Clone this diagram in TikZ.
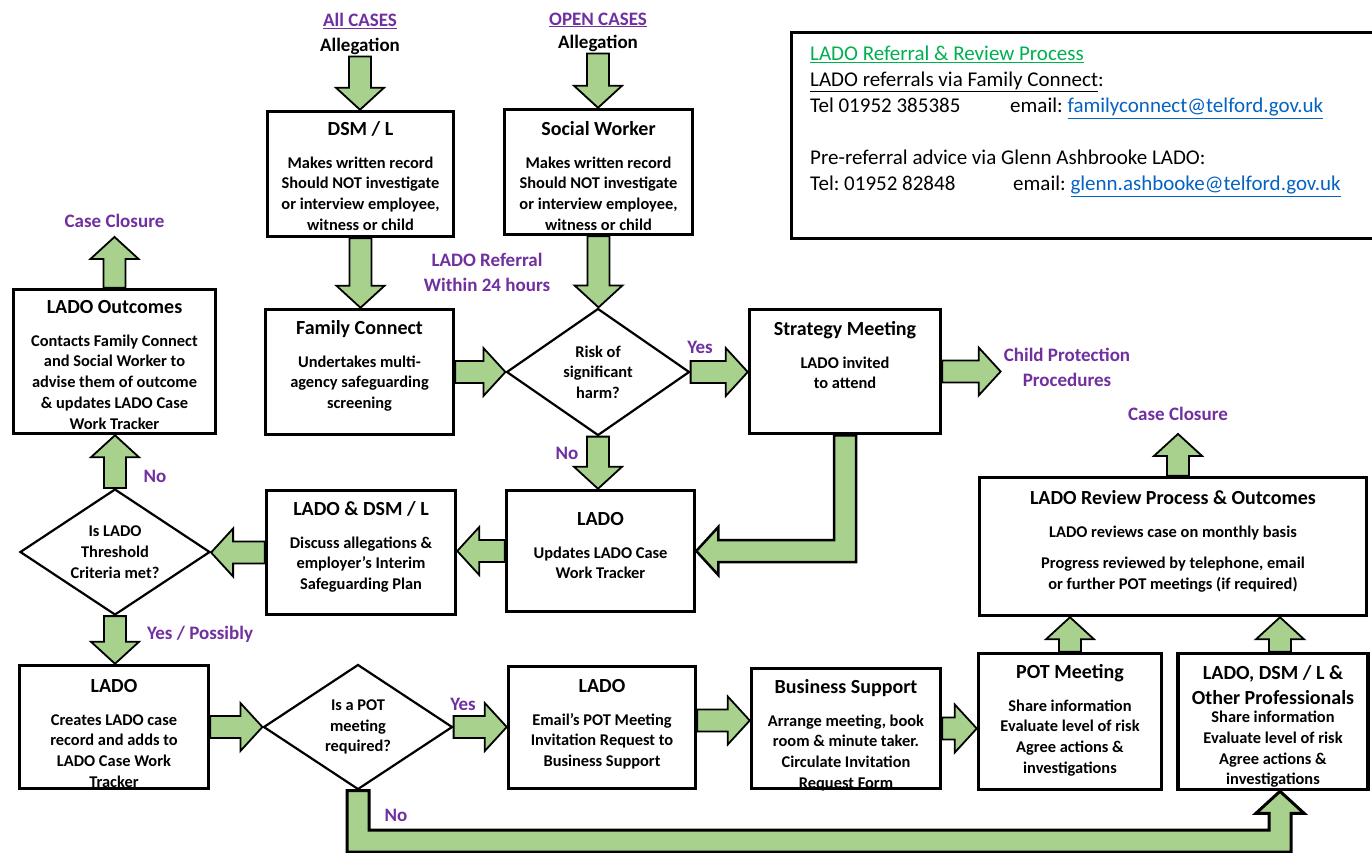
\documentclass[tikz,border=0pt]{standalone}
\usepackage{fontspec}
\setmainfont{Carlito}
\frenchspacing
\usetikzlibrary{positioning,calc,shapes.geometric}
\definecolor{arrowgreen}{HTML}{A9D18E}
\definecolor{labelpurple}{HTML}{7030A0}
\definecolor{titlegreen}{HTML}{00B050}
\definecolor{linkblue}{HTML}{0563C1}
\tikzset{
  box/.style={draw,line width=3.5pt,inner sep=0pt},
  decision/.style={draw,diamond,line width=2.2pt,inner sep=0pt},
  boxtext/.style={align=center,inner sep=0pt,font=\fontsize{16.4}{20.7}\selectfont\bfseries},
  lbl/.style={text=labelpurple,align=center,inner sep=3pt,font=\fontsize{19}{25}\selectfont\bfseries},
  blockarrow/.style={fill=arrowgreen,draw=black,line width=1.8pt,line join=miter},
}
\newcommand{\boxtitle}[1]{{\fontsize{20}{24}\selectfont #1}}
% straight block arrow from #1 to the tip #2
\newcommand{\fatarrow}[2]{%
  \path (#1) coordinate (fa-s) (#2) coordinate (fa-t);
  \path ($(fa-t)!22pt!(fa-s)$) coordinate (fa-h);
  \filldraw[blockarrow] ($(fa-s)!11pt!90:(fa-t)$) -- ($(fa-h)!11pt!-90:(fa-s)$)
    -- ($(fa-h)!24pt!-90:(fa-s)$) -- (fa-t) -- ($(fa-h)!24pt!90:(fa-s)$)
    -- ($(fa-h)!11pt!90:(fa-s)$) -- ($(fa-s)!11pt!-90:(fa-t)$) -- cycle;
}
\begin{document}
\begin{tikzpicture}[x=1pt,y=-1pt]
\path[use as bounding box,fill=white] (0,0) rectangle (1372,852);
%info box
\node[draw,line width=2.5pt,minimum width=592pt,minimum height=206pt,anchor=north west,inner sep=0pt] (info) at (790,31) {};
\node[anchor=north west,align=left,inner sep=0pt,font=\fontsize{21}{26}\selectfont] (info-t) at (810,46)
  {\textcolor{titlegreen}{\underline{LADO Referral \& Review Process}}\\
   \underline{LADO referrals via Family Connect}:\\
   \makebox[200pt][l]{Tel 01952 385385}email: \textcolor{linkblue}{\underline{familyconnect@telford.gov.uk}}\\[26pt]
   Pre-referral advice via Glenn Ashbrooke LADO:\\
   \makebox[203pt][l]{Tel: 01952 82848}email: \textcolor{linkblue}{\underline{glenn.ashbooke@telford.gov.uk}}};
%top labels
\node[lbl] (all) at (360,21) {\underline{All CASES}};
\node[lbl,text=black,inner sep=2pt] (alleg1) at (360,46) {Allegation};
\node[lbl] (open) at (598,20) {\underline{OPEN CASES}};
\node[lbl,text=black,inner sep=2pt] (alleg2) at (598,43) {Allegation};
%first column of boxes
\node[box,minimum width=186pt,minimum height=125pt] (dsm) at (360.5,174) {};
\node[boxtext,below=11.5pt of dsm.north] (dsm-t) {\boxtitle{DSM / L}\\[12pt]Makes written record\\Should NOT investigate\\or interview employee,\\witness or child};
\node[box,minimum width=188pt,minimum height=125pt] (sw) at (598.5,172) {};
\node[boxtext,below=13.5pt of sw.north] (sw-t) {\boxtitle{Social Worker}\\[12pt]Makes written record\\Should NOT investigate\\or interview employee,\\witness or child};
\node[box,minimum width=188pt,minimum height=125pt] (fc) at (359.5,372) {};
\node[boxtext,below=12.5pt of fc.north] (fc-t) {\boxtitle{Family Connect}\\[12pt]Undertakes multi-\\agency safeguarding\\screening};
\node[decision,minimum width=183pt,minimum height=127pt] (risk) at (598,372) {};
\node[boxtext] (risk-t) at (risk.center) {Risk of\\significant\\harm?};
\node[box,minimum width=191pt,minimum height=124pt] (strat) at (845,371.5) {};
\node[boxtext,below=13.5pt of strat.north] (strat-t) {\boxtitle{Strategy Meeting}\\[12pt]LADO invited\\to attend};
\node[lbl] (cp) at (1067,367) {Child Protection\\Procedures};
\node[lbl] (ref) at (487,272) {LADO Referral\\Within 24 hours};
%left column
\node[box,minimum width=202pt,minimum height=144pt] (outc) at (114.5,361.5) {};
\node[boxtext,below=12.5pt of outc.north] (outc-t) {\boxtitle{LADO Outcomes}\\[12pt]Contacts Family Connect\\and Social Worker to\\advise them of outcome\\\& updates LADO Case\\Work Tracker};
\node[lbl] (close1) at (114.5,221) {Case Closure};
\node[decision,minimum width=190pt,minimum height=126pt] (thresh) at (115,552) {};
\node[boxtext] (thresh-t) at (thresh.center) {Is LADO\\Threshold\\Criteria met?};
\node[box,minimum width=189pt,minimum height=124pt] (ladodsm) at (361,552.5) {};
\node[boxtext,below=12.5pt of ladodsm.north] (ladodsm-t) {\boxtitle{LADO \& DSM / L}\\[12pt]Discuss allegations \&\\employer’s Interim\\Safeguarding Plan};
\node[box,minimum width=188pt,minimum height=121pt] (lado1) at (600.5,551) {};
\node[boxtext,below=23.5pt of lado1.north] (lado1-t) {\boxtitle{LADO}\\[12pt]Updates LADO Case\\Work Tracker};
%bottom row
\node[box,minimum width=189pt,minimum height=123pt] (lado2) at (114,727) {};
\node[boxtext,below=15.5pt of lado2.north] (lado2-t) {\boxtitle{LADO}\\[12pt]Creates LADO case\\record and adds to\\LADO Case Work\\Tracker};
\node[decision,minimum width=189pt,minimum height=125pt] (pot) at (358,727) {};
\node[boxtext] (pot-t) at (pot.center) {Is a POT\\meeting\\required?};
\node[box,minimum width=187pt,minimum height=122pt] (lado3) at (602,727.5) {};
\node[boxtext,below=14.5pt of lado3.north] (lado3-t) {\boxtitle{LADO}\\[12pt]Email’s POT Meeting\\Invitation Request to\\Business Support};
\node[box,minimum width=189pt,minimum height=120pt] (bs) at (846,728.5) {};
\node[boxtext,below=12.5pt of bs.north] (bs-t) {\boxtitle{Business Support}\\[12pt]Arrange meeting, book\\room \& minute taker.\\Circulate Invitation\\Request Form};
\node[box,minimum width=183pt,minimum height=136pt] (potm) at (1070,721.5) {};
\node[boxtext,below=12.5pt of potm.north] (potm-t) {\boxtitle{POT Meeting}\\[12pt]Share information\\Evaluate level of risk\\Agree actions \&\\investigations};
\node[box,minimum width=190pt,minimum height=136pt] (others) at (1273,721.5) {};
\node[boxtext,below=13.5pt of others.north] (others-t) {\boxtitle{LADO, DSM / L \&}\\[4pt]\boxtitle{Other Professionals}\\[-2pt]Share information\\Evaluate level of risk\\Agree actions \&\\investigations};
\node[box,minimum width=387pt,minimum height=138pt] (review) at (1173,546.5) {};
\node[boxtext,below=14.5pt of review.north] (review-t) {\boxtitle{LADO Review Process \& Outcomes}\\[12pt]LADO reviews case on monthly basis\\[11pt]Progress reviewed by telephone, email\\or further POT meetings (if required)};
\node[lbl] (close2) at (1178,414) {Case Closure};
%yes / no labels
\node[lbl] (yes1) at (700,347) {Yes};
\node[lbl] (no1) at (567,453) {No};
\node[lbl] (no2) at (155,476) {No};
\node[lbl] (yes2) at (200,634) {Yes / Possibly};
\node[lbl] (yes3) at (463,704) {Yes};
\node[lbl] (no3) at (396,815) {No};
%straight arrows
\fatarrow{alleg1.south}{alleg1.south |- dsm.north}
\fatarrow{alleg2.south}{alleg2.south |- sw.north}
\fatarrow{dsm.south}{dsm.south |- fc.north}
\fatarrow{sw.south}{sw.south |- risk.north}
\fatarrow{fc.east}{fc.east -| risk.west}
\fatarrow{risk.east}{risk.east -| strat.west}
\fatarrow{strat.east}{strat.east -| cp.west}
\fatarrow{risk.south}{risk.south |- lado1.north}
\fatarrow{lado1.west}{lado1.west -| ladodsm.east}
\fatarrow{ladodsm.west}{ladodsm.west -| thresh.east}
\fatarrow{thresh.north}{thresh.north |- outc.south}
\fatarrow{outc.north}{[yshift=-6pt]close1.south}
\fatarrow{thresh.south}{thresh.south |- lado2.north}
\fatarrow{lado2.east}{lado2.east -| pot.west}
\fatarrow{pot.east}{pot.east -| lado3.west}
\coordinate (a1) at ([yshift=7pt]lado3.east);
\fatarrow{a1}{a1 -| bs.west}
\fatarrow{bs.east}{bs.east -| potm.west}
\fatarrow{potm.north}{potm.north |- review.south}
\coordinate (a3) at ([xshift=7pt]others.north);
\fatarrow{a3}{a3 |- review.south}
\coordinate (a2) at ([xshift=5pt]review.north);
\fatarrow{a2}{[yshift=-10pt]close2.south}
%elbow arrow strategy -> lado
\filldraw[blockarrow,line width=2.5pt] ([xshift=-11pt]strat.south) |- ([xshift=22pt,yshift=11pt]lado1.east)
  -- ([xshift=22pt,yshift=24pt]lado1.east) -- (lado1.east) -- ([xshift=22pt,yshift=-24pt]lado1.east)
  -- ([xshift=22pt,yshift=-11pt]lado1.east) -| ([xshift=11pt]strat.south) -- cycle;
%elbow arrow no -> other professionals
\coordinate (band) at (0,841);
\coordinate (a4) at ([xshift=7pt]others.south);
\filldraw[blockarrow,line width=3pt] ($(pot.south)+(-11,0)$) -- ($(pot.south |- band)+(-11,11)$)
  -- ($(a4 |- band)+(11,11)$) -- ($(a4)+(11,22)$) -- ($(a4)+(24,22)$) -- (a4)
  -- ($(a4)+(-24,22)$) -- ($(a4)+(-11,22)$) -- ($(a4 |- band)+(-11,-11)$)
  -- ($(pot.south |- band)+(11,-11)$) -- ($(pot.south)+(11,0)$) -- cycle;
\end{tikzpicture}
\end{document}
